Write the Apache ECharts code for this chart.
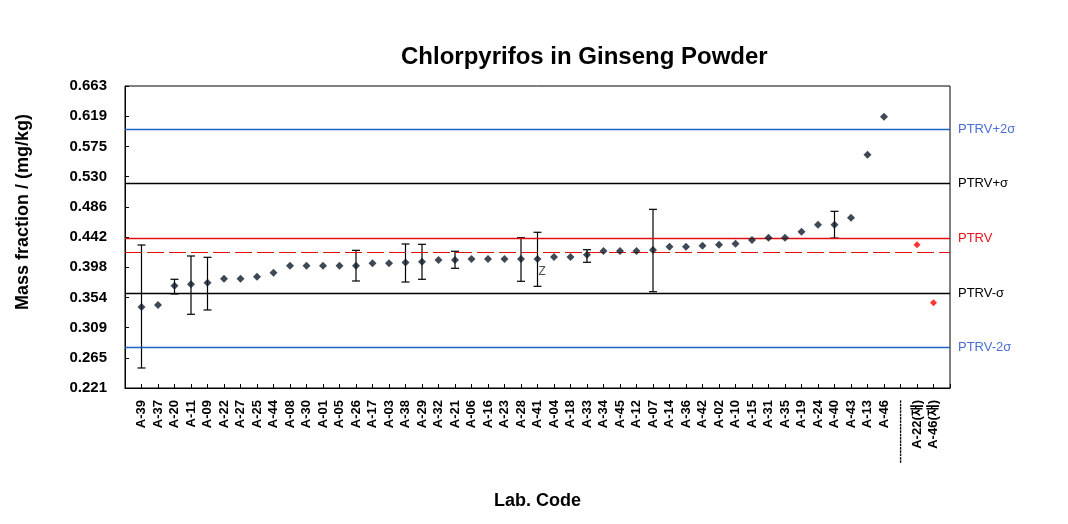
<!DOCTYPE html>
<html>
<head>
<meta charset="utf-8">
<script src="https://cdn.jsdelivr.net/npm/echarts@6/dist/echarts.min.js"></script>
<style>
html,body{margin:0;padding:0;background:#fff;}
#chart{width:1068px;height:524px;}
</style>
</head>
<body>
<div id="chart"></div>
<script>
// ---- data ----
const labCodes = ['A-39','A-37','A-20','A-11','A-09','A-22','A-27','A-25','A-44','A-08','A-30','A-01','A-05','A-26','A-17','A-03','A-38','A-29','A-32','A-21','A-06','A-16','A-23','A-28','A-41','A-04','A-18','A-33','A-34','A-45','A-12','A-07','A-14','A-36','A-42','A-02','A-10','A-15','A-31','A-35','A-19','A-24','A-40','A-43','A-13','A-46'];
const labValues = [0.3395,0.3425,0.3707,0.3727,0.3751,0.3810,0.3810,0.3839,0.3898,0.4000,0.4000,0.4000,0.4000,0.4000,0.4035,0.4035,0.4047,0.4059,0.4083,0.4083,0.4098,0.4098,0.4098,0.4098,0.4098,0.4127,0.4127,0.4161,0.4215,0.4215,0.4215,0.4230,0.4278,0.4278,0.4293,0.4307,0.4322,0.4376,0.4410,0.4410,0.4498,0.4600,0.4600,0.4703,0.5624,0.6181];
const retestCodes = ['A-22(재)','A-46(재)'];
const retestValues = [0.4307,0.3458];
const separatorLabel = '-------------------';
// error bars: [lab code, low, high]
const errorBars = [
  ['A-39',0.2503,0.4303],
  ['A-20',0.3586,0.3801],
  ['A-11',0.3289,0.4142],
  ['A-09',0.3352,0.4123],
  ['A-26',0.3776,0.4225],
  ['A-38',0.3761,0.4318],
  ['A-29',0.3801,0.4313],
  ['A-21',0.3962,0.4211],
  ['A-28',0.3772,0.4410],
  ['A-41',0.3698,0.4489],
  ['A-33',0.4050,0.4234],
  ['A-07',0.3619,0.4825],
  ['A-40',0.4405,0.4796]
];
const annotations = [['A-41','Z']];
const ptrv = 0.442;
const sigma = 0.080;
const dashedRef = 0.417;
const refLineNames = ['PTRV+2σ','PTRV+σ','PTRV','PTRV-σ','PTRV-2σ'];
const yMin = 0.221, yMax = 0.663, yStep = 0.0442;

// ---- build ----
const axisCats = [''].concat(labCodes, [separatorLabel], retestCodes, ['']);
const idx = c => axisCats.indexOf(c);
const mainData = labCodes.map((c,i) => {
  const ann = annotations.find(a => a[0] === c);
  const item = {value:[idx(c), labValues[i]]};
  if (ann) item.label = {show:true, formatter:ann[1], position:[5,11], color:'#222', fontSize:12, fontFamily:'Liberation Sans, Arial, sans-serif'};
  return item;
});
const retestData = retestCodes.map((c,i) => [idx(c), retestValues[i]]);
const errData = errorBars.map(e => [idx(e[0]), e[1], e[2]]);

const blueLine = '#1f63c6', blueText = '#4a6fd6', redLine = '#e01010', redText = '#e8141c';
const refVals = [ptrv+2*sigma, ptrv+sigma, ptrv, ptrv-sigma, ptrv-2*sigma];
const lineColors = [blueLine,'#000',redLine,'#000',blueLine];
const textColors = [blueText,'#000',redText,'#000',blueText];
const font = '"Liberation Sans", Arial, "Noto Sans CJK KR", sans-serif';

const markData = refVals.map((v,i) => ({
  yAxis: v,
  lineStyle:{color:lineColors[i], width:1.4, type:'solid', opacity:1},
  label:{show:true, position:'end', formatter:refLineNames[i], color:textColors[i], fontSize:13, fontFamily:font, distance:8}
}));
markData.push({yAxis: dashedRef, lineStyle:{color:redLine, width:1.2, type:[17,5], opacity:1}, label:{show:false}});

const chart = echarts.init(document.getElementById('chart'), null, {renderer:'canvas'});
chart.setOption({
  backgroundColor:'#fff',
  animation:false,
  title:{text:'Chlorpyrifos in Ginseng Powder', left:396, top:40, textStyle:{fontFamily:font, fontSize:24, fontWeight:'bold', color:'#000'}},
  grid:{left:125, right:118, top:86, bottom:136, show:true, borderColor:'#000', borderWidth:1},
  graphic:[{type:'text', x:23, y:212, rotation:Math.PI/2, style:{text:'Mass fraction / (mg/kg)', font:'bold 18px ' + font, fill:'#000', textAlign:'center', textVerticalAlign:'middle'}}],
  xAxis:{
    type:'category', data:axisCats, boundaryGap:false,
    name:'Lab. Code', nameLocation:'middle', nameGap:104,
    nameTextStyle:{fontFamily:font, fontSize:18, fontWeight:'bold', color:'#000'},
    axisLine:{lineStyle:{color:'#000'}},
    axisTick:{inside:true, length:4, interval:0, lineStyle:{color:'#000'}},
    axisLabel:{interval:0, rotate:90, margin:12, fontFamily:font, fontSize:13, fontWeight:'bold', color:'#000',
      formatter: v => v === separatorLabel ? '{sep|' + v + '}' : v,
      rich:{sep:{fontSize:10, fontWeight:'bold', color:'#000', fontFamily:font}}},
    splitLine:{show:false}
  },
  yAxis:{
    type:'value', min:yMin, max:yMax, interval:yStep,
    axisLine:{show:true, lineStyle:{color:'#000'}},
    axisTick:{show:true, inside:true, length:4, lineStyle:{color:'#000'}},
    axisLabel:{formatter: v => v.toFixed(3), margin:18, fontFamily:font, fontSize:15, fontWeight:'bold', color:'#000'},
    splitLine:{show:false}
  },
  series:[
    {type:'line', data:[], silent:true, markLine:{symbol:'none', silent:true, data:markData}},
    {type:'custom', silent:true, z:3, data:errData,
      renderItem:(params, api) => {
        const x = api.value(0);
        const lo = api.coord([x, api.value(1)]);
        const hi = api.coord([x, api.value(2)]);
        const w = 4;
        const st = {stroke:'#000', lineWidth:1.2};
        return {type:'group', children:[
          {type:'line', shape:{x1:lo[0], y1:lo[1], x2:hi[0], y2:hi[1]}, style:st},
          {type:'line', shape:{x1:lo[0]-w, y1:lo[1], x2:lo[0]+w, y2:lo[1]}, style:st},
          {type:'line', shape:{x1:hi[0]-w, y1:hi[1], x2:hi[0]+w, y2:hi[1]}, style:st}
        ]};
      }},
    {type:'scatter', z:5, symbol:'diamond', symbolSize:8, data:mainData, itemStyle:{color:'#0f1c2c'}},
    {type:'scatter', z:5, symbol:'diamond', symbolSize:7, data:retestData, itemStyle:{color:'#ff0000'}}
  ]
});
</script>
</body>
</html>
